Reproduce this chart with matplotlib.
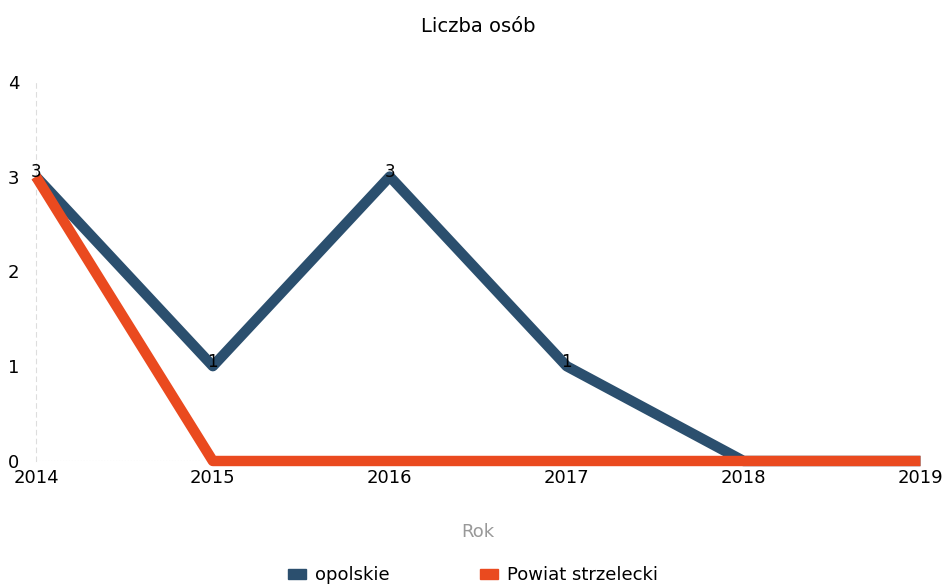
import matplotlib.pyplot as plt
from matplotlib.patches import Patch

years = [2014, 2015, 2016, 2017, 2018, 2019]
opolskie = [3, 1, 3, 1, 0, 0]
strzelecki = [3, 0, 0, 0, 0, 0]
labels_opolskie = ["3", "1", "3", "1", "", ""]

blue = "#2b4f6e"
orange = "#ea4a1f"

fig = plt.figure(figsize=(9.46, 5.88), dpi=100)
ax = fig.add_axes([0.038, 0.216, 0.935, 0.645])

ax.plot(years, opolskie, color=blue, lw=7.5, solid_capstyle="butt", zorder=2, clip_on=False)
ax.plot(years, strzelecki, color=orange, lw=7.5, solid_capstyle="butt", zorder=3, clip_on=False)

for x, y, t in zip(years, opolskie, labels_opolskie):
    if t:
        ax.text(x, y - 0.05, t, ha="center", va="bottom", fontsize=12, zorder=4)

ax.set_xlim(2014, 2019)
ax.set_ylim(0, 4)
ax.set_xticks(years)
ax.set_yticks([0, 1, 2, 3, 4])
ax.tick_params(length=0, labelsize=13, pad=6)
ax.tick_params(axis="y", pad=12)
for s in ["top", "right", "bottom"]:
    ax.spines[s].set_visible(False)
ax.spines["left"].set_color("#dddddd")
ax.spines["left"].set_linestyle((0, (4, 4)))
ax.axhline(0, color="#cccccc", lw=0.8, ls=":", zorder=1)

ax.set_xlabel("Rok", fontsize=13, color="#999999", labelpad=26)
ax.set_title("Liczba osób", fontsize=14, pad=36)

handles = [Patch(color=blue, label="opolskie"), Patch(color=orange, label="Powiat strzelecki")]
fig.legend(handles=handles, loc="center", bbox_to_anchor=(0.5, 0.022), ncol=2,
           frameon=False, fontsize=13, handlelength=1.0, handleheight=0.5,
           columnspacing=5, handletextpad=0.5)

fig.savefig("out.png", dpi=100)
